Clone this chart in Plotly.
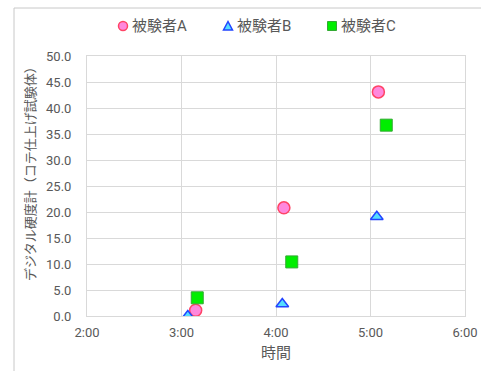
import plotly.graph_objects as go

series_names = ["被験者A", "被験者B", "被験者C"]
times_A = ["2000-01-01 03:09", "2000-01-01 04:05", "2000-01-01 05:05"]
values_A = [1.1, 20.8, 43.1]
times_B = ["2000-01-01 03:04", "2000-01-01 04:04", "2000-01-01 05:04"]
values_B = [0.0, 2.3, 19.1]
times_C = ["2000-01-01 03:10", "2000-01-01 04:10", "2000-01-01 05:10"]
values_C = [3.5, 10.4, 36.7]
x_title = "時間"
y_title = "デジタル硬度計（コテ仕上げ試験体）"

FONT = "Roboto, 'Noto Sans CJK JP', sans-serif"
GRAY = "#595959"

styles = [
    dict(symbol="circle", size=12, color="#ff88dd", line=dict(color="#ff4466", width=1.5)),
    dict(symbol="triangle-up", size=11, color="#55ddff", line=dict(color="#2244ff", width=1.5)),
    dict(symbol="square", size=12, color="#00ee00", line=dict(color="#33aa33", width=1)),
]

fig = go.Figure()
for name, xs, ys, st in zip(series_names, [times_A, times_B, times_C],
                            [values_A, values_B, values_C], styles):
    fig.add_trace(go.Scatter(x=xs, y=ys, mode="markers", name=name, marker=st,
                             showlegend=False))

L, R, T, B = 87, 16, 56, 55
W, H = 481, 371
pw = W - L - R
ph = H - T - B

def px(x):
    return (x - L) / pw

def py(y):
    return (H - B - y) / ph

# manual legend (symbol centre x)
leg_y = 26
leg_sym_x = [123, 228, 332]
shapes = []
annotations = []
r = 4.5
shapes.append(dict(type="circle", xref="paper", yref="paper",
                   x0=px(leg_sym_x[0] - r), x1=px(leg_sym_x[0] + r),
                   y0=py(leg_y + r), y1=py(leg_y - r),
                   fillcolor="#ff88dd", line=dict(color="#ff4466", width=1.5)))
tx = leg_sym_x[1]
shapes.append(dict(type="path", xref="paper", yref="paper",
                   path=f"M {px(tx - 4.5)} {py(leg_y + 4)} L {px(tx + 4.5)} {py(leg_y + 4)} L {px(tx)} {py(leg_y - 4.5)} Z",
                   fillcolor="#55ddff", line=dict(color="#2244ff", width=1.5)))
sx = leg_sym_x[2]
shapes.append(dict(type="rect", xref="paper", yref="paper",
                   x0=px(sx - 4.5), x1=px(sx + 4.5), y0=py(leg_y + 4.5), y1=py(leg_y - 4.5),
                   fillcolor="#00ee00", line=dict(color="#33aa33", width=1)))
for name, sxp in zip(series_names, leg_sym_x):
    annotations.append(dict(text=name, xref="paper", yref="paper", x=px(sxp + 7),
                            y=py(leg_y), xanchor="left", yanchor="middle", showarrow=False,
                            font=dict(size=15, color=GRAY)))

# y-axis title placed like the reference (slightly above the plot centre)
annotations.append(dict(text=y_title, xref="paper", yref="paper", x=px(30), y=py(171),
                        xanchor="center", yanchor="middle", textangle=-90, showarrow=False,
                        font=dict(size=13, color=GRAY)))

# outer frame
shapes.append(dict(type="line", xref="paper", yref="paper",
                   x0=px(14), x1=px(W), y0=py(8), y1=py(8),
                   line=dict(color="#c8c8c8", width=1)))
shapes.append(dict(type="line", xref="paper", yref="paper",
                   x0=px(14), x1=px(14), y0=py(8), y1=py(H),
                   line=dict(color="#c8c8c8", width=1)))

fig.update_layout(
    width=W, height=H,
    margin=dict(l=L, r=R, t=T, b=B, autoexpand=False),
    paper_bgcolor="white", plot_bgcolor="white",
    font=dict(family=FONT, size=13, color=GRAY),
    showlegend=False,
    xaxis=dict(type="date", range=["2000-01-01 02:00", "2000-01-01 06:00"],
               dtick=3600000, tick0="2000-01-01 02:00", tickformat="%-H:%M",
               showgrid=True, gridcolor="#d9d9d9", gridwidth=1,
               showline=True, linecolor="#d9d9d9", mirror=True, zeroline=False,
               ticklabelstandoff=4,
               title=dict(text=x_title, font=dict(size=15, color=GRAY), standoff=8)),
    yaxis=dict(range=[0, 50], dtick=5, tickformat=".1f",
               showgrid=True, gridcolor="#d9d9d9", gridwidth=1,
               showline=True, linecolor="#d9d9d9", mirror=True, zeroline=False,
               ticklabelstandoff=12),
    shapes=shapes,
    annotations=annotations,
)

fig.write_html("out.html")
